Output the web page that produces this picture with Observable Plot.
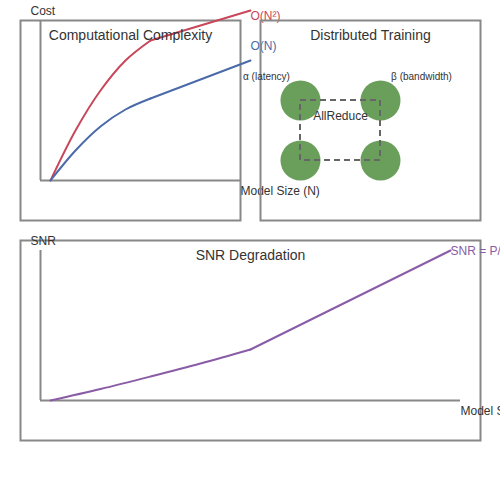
<!DOCTYPE html>
<html>
<head>
<meta charset="utf-8">
<script src="https://cdn.jsdelivr.net/npm/d3@7"></script>
<script src="https://cdn.jsdelivr.net/npm/@observablehq/plot@0.6"></script>
<style>
  html, body { margin: 0; padding: 0; background: white; overflow: hidden; }
  #chart { position: relative; width: 500px; height: 500px; overflow: hidden; background: white; }
  #chart > svg { position: absolute; left: 0; top: 0; }
</style>
</head>
<body>
<div id="chart"></div>
<script>
// ---------- Panel 1: Computational Complexity (model size N vs cost) ----------
const quadN    = [1, 3.5, 6, 8.5, 11, 21];
const quadCost = [0, 5, 9, 12, 14, 17];
const linN     = [1, 3.5, 6, 8.5, 11, 21];
const linCost  = [0, 3.0, 5.4, 7.1, 8.2, 12];

// ---------- Panel 2: Distributed Training (2x2 AllReduce ring) ----------
const nodeCol = [0, 1, 0, 1];
const nodeRow = [0, 0, 1, 1];

// ---------- Panel 3: SNR Degradation ----------
const snrN   = [1, 6, 11, 16, 21, 41];
const snrVal = [0, 1.15, 2.4, 3.7, 5.1, 15];

// Labels
const titles = ["Computational Complexity", "Distributed Training", "SNR Degradation"];
const seriesLabels = ["O(N²)", "O(N)", "SNR = P/N"];
const axisLabels = ["Cost", "Model Size (N)", "SNR", "Model Size (N)"];
const commLabels = ["α (latency)", "β (bandwidth)", "AllReduce"];

const RED = "#c8475a", BLUE = "#4a6aa8", PURPLE = "#8a5ca6", GREEN = "#6a9e5b";
const GRAY = "#888", TEXT = "#333";
const FONT = "'Liberation Sans', Arial, sans-serif";

const toPts = (xs, ys) => xs.map((x, i) => ({x, y: ys[i]}));
const quad = toPts(quadN, quadCost);
const lin = toPts(linN, linCost);
const snr = toPts(snrN, snrVal);
const nodes = nodeCol.map((c, i) => ({c, r: nodeRow[i]}));

const baseStyle = {background: "transparent", overflow: "visible", fontFamily: FONT};
const chart = document.getElementById("chart");

// Panel 1
const p1 = Plot.plot({
  width: 500, height: 500,
  marginLeft: 20, marginRight: 260, marginTop: 20, marginBottom: 280,
  x: {domain: [-2, 20], axis: null},
  y: {domain: [-4, 16], axis: null},
  style: baseStyle,
  marks: [
    Plot.frame({stroke: GRAY, strokeWidth: 2}),
    Plot.ruleX([0], {y1: 0, y2: 16, stroke: GRAY, strokeWidth: 2}),
    Plot.ruleY([0], {x1: 0, x2: 20, stroke: GRAY, strokeWidth: 2}),
    Plot.line(quad.slice(0, 5), {x: "x", y: "y", stroke: RED, strokeWidth: 2, curve: "catmull-rom"}),
    Plot.line(quad.slice(4), {x: "x", y: "y", stroke: RED, strokeWidth: 2}),
    Plot.line(lin.slice(0, 5), {x: "x", y: "y", stroke: BLUE, strokeWidth: 2, curve: "catmull-rom"}),
    Plot.line(lin.slice(4), {x: "x", y: "y", stroke: BLUE, strokeWidth: 2}),
    Plot.text([titles[0]], {x: 9, y: 14.5, fill: TEXT, fontSize: 14}),
    Plot.text([axisLabels[0]], {x: -1, y: 16.9, fill: TEXT, fontSize: 12, textAnchor: "start"}),
    Plot.text([axisLabels[1]], {x: 20, y: -1.1, fill: TEXT, fontSize: 12, textAnchor: "start"}),
    Plot.text([seriesLabels[0]], {x: 21, y: 16.4, fill: RED, fontSize: 12, textAnchor: "start"}),
    Plot.text([seriesLabels[1]], {x: 21, y: 13.4, fill: BLUE, fontSize: 12, textAnchor: "start"})
  ]
});

// Panel 2
const p2 = Plot.plot({
  width: 500, height: 500,
  marginLeft: 260, marginRight: 20, marginTop: 20, marginBottom: 280,
  x: {domain: [-0.5, 2.25], axis: null},
  y: {domain: [-4 / 3, 2], reverse: true, axis: null},
  style: baseStyle,
  marks: [
    Plot.frame({stroke: GRAY, strokeWidth: 2}),
    Plot.dot(nodes, {x: "c", y: "r", r: 20, fill: GREEN, stroke: "none"}),
    Plot.rect([{x1: 0, x2: 1, y1: 0, y2: 1}], {x1: "x1", x2: "x2", y1: "y1", y2: "y2",
      fill: "none", stroke: "#666", strokeWidth: 2, strokeDasharray: "6,4"}),
    Plot.text([titles[1]], {x: 0.875, y: -1.083, fill: TEXT, fontSize: 14}),
    Plot.text([commLabels[0]], {x: -0.425, y: -0.4, fill: TEXT, fontSize: 10}),
    Plot.text([commLabels[1]], {x: 1.5125, y: -0.4, fill: TEXT, fontSize: 10}),
    Plot.text([commLabels[2]], {x: 0.5, y: 0.267, fill: TEXT, fontSize: 12})
  ]
});

// Panel 3
const p3 = Plot.plot({
  width: 500, height: 500,
  marginLeft: 20, marginRight: 20, marginTop: 240, marginBottom: 60,
  x: {domain: [-2, 44], axis: null},
  y: {domain: [-4, 16], axis: null},
  style: baseStyle,
  marks: [
    Plot.frame({stroke: GRAY, strokeWidth: 2}),
    Plot.ruleX([0], {y1: 0, y2: 15, stroke: GRAY, strokeWidth: 2}),
    Plot.ruleY([0], {x1: 0, x2: 42, stroke: GRAY, strokeWidth: 2}),
    Plot.line(snr.slice(0, 5), {x: "x", y: "y", stroke: PURPLE, strokeWidth: 2, curve: "catmull-rom"}),
    Plot.line(snr.slice(4), {x: "x", y: "y", stroke: PURPLE, strokeWidth: 2}),
    Plot.text([titles[2]], {x: 21, y: 14.5, fill: TEXT, fontSize: 14}),
    Plot.text([axisLabels[2]], {x: -1, y: 15.9, fill: TEXT, fontSize: 12, textAnchor: "start"}),
    Plot.text([axisLabels[3]], {x: 42, y: -1.1, fill: TEXT, fontSize: 12, textAnchor: "start"}),
    Plot.text([seriesLabels[2]], {x: 41, y: 14.9, fill: PURPLE, fontSize: 12, textAnchor: "start"})
  ]
});

chart.append(p1, p2, p3);
</script>
</body>
</html>
